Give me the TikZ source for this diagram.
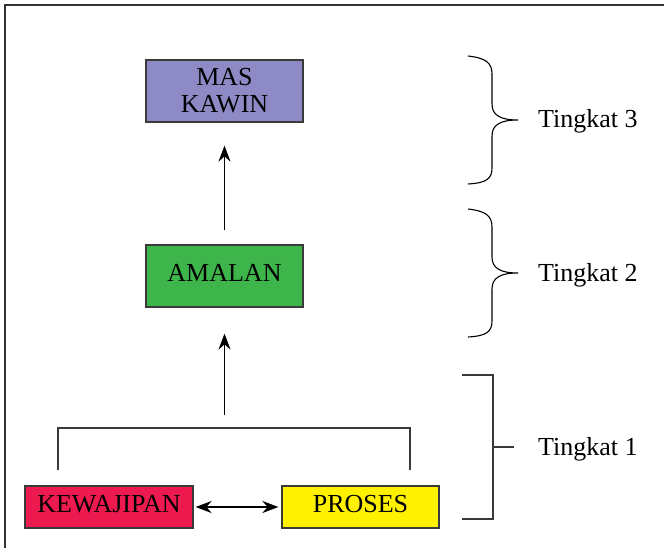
\documentclass[tikz,border=0pt]{standalone}
\usepackage{fontspec}
\setmainfont{Liberation Serif}
\usetikzlibrary{arrows.meta}
\definecolor{cpurple}{HTML}{8E8AC5}
\definecolor{cgreen}{HTML}{3DB54A}
\definecolor{cred}{HTML}{ED1A4F}
\definecolor{cyellow}{HTML}{FFF100}
\definecolor{cborder}{HTML}{3A3A3A}
\begin{document}
\begin{tikzpicture}[x=1pt,y=-1pt,
  box/.style={draw=cborder,line width=1.2pt,minimum height=62pt,minimum width=157pt,inner sep=0pt,align=center,font=\fontsize{26}{27}\selectfont},
  onebox/.style={box,text height=17.5pt,text depth=7pt},
  lowbox/.style={onebox,minimum height=42pt},
  lbl/.style={anchor=base west,font=\fontsize{26}{27}\selectfont,inner sep=0pt},
  arr/.style={-{Stealth[length=16pt,width=12pt]},line width=1.2pt},
  ln/.style={line width=1.2pt,draw=cborder}]
\useasboundingbox (0,0) rectangle (664,548);
\clip (0,0) rectangle (664,548);
\draw[line width=1.2pt,draw=black!80] (5,560) -- (5,5) -- (680,5);
% nodes
\node[box,fill=cpurple] (mas) at (224.5,91) {MAS\\KAWIN};
\node[onebox,fill=cgreen] (amalan) at (224.5,276) {AMALAN};
\node[lowbox,fill=cred,minimum width=168pt] (kew) at (109,507) {KEWAJIPAN};
\node[lowbox,fill=cyellow,minimum width=157pt] (proses) at (360.5,507) {PROSES};
\node[lbl] (t3) at (538,128) {Tingkat 3};
\node[lbl] (t2) at (538,281) {Tingkat 2};
\node[lbl] (t1) at (538,455) {Tingkat 1};
% arrows
\draw[arr,shorten <=14pt,shorten >=23pt] (amalan.north) -- (mas.south);
\coordinate (join) at (224.5,415);
\draw[arr,shorten >=26pt] (join) -- (amalan.south);
\draw[{Stealth[length=16pt,width=12pt]}-{Stealth[length=16pt,width=12pt]},line width=2pt,shorten <=2pt,shorten >=3pt] (kew.east) -- (proses.west);
% bracket over the two boxes
\coordinate (bl) at (58,470);
\coordinate (br) at (410,470);
\draw[ln] (bl) -- (58,428) -- (410,428) -- (br);
% Tingkat 1 bracket
\coordinate (tick) at (514,447);
\draw[ln] (462,375) -- (493,375) -- (493,519) -- (462,519);
\draw[ln] (493,447) -- (tick);
% braces
\draw[line width=1.1pt] (468,56) .. controls (486,58) and (492,63) .. (492,74) -- (492,104)
  .. controls (492,115) and (500,120) .. (518,120)
  .. controls (500,120) and (492,125) .. (492,136) -- (492,168)
  .. controls (492,179) and (486,183) .. (468,184);
\draw[line width=1.1pt] (468,209) .. controls (486,211) and (492,216) .. (492,227) -- (492,257)
  .. controls (492,268) and (500,273) .. (518,273)
  .. controls (500,273) and (492,278) .. (492,289) -- (492,321)
  .. controls (492,332) and (486,336) .. (468,337);
\end{tikzpicture}
\end{document}
